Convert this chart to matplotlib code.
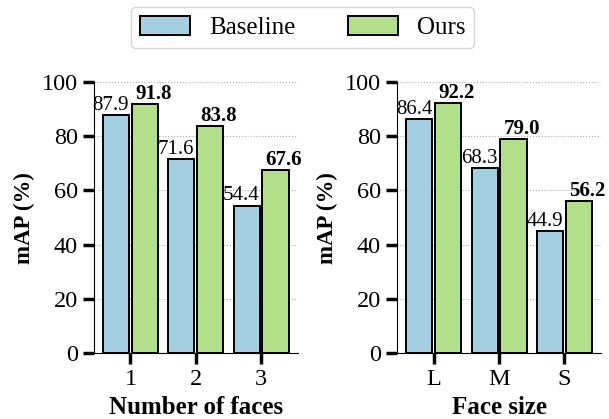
import matplotlib
matplotlib.use('Agg')
import matplotlib.pyplot as plt
import numpy as np

plt.rcParams['font.family'] = ['Liberation Serif', 'DejaVu Serif']

faces_labels = ['1', '2', '3']
faces_baseline = [87.9, 71.6, 54.4]
faces_ours = [91.8, 83.8, 67.6]

size_labels = ['L', 'M', 'S']
size_baseline = [86.4, 68.3, 44.9]
size_ours = [92.2, 79.0, 56.2]

blue = '#a6cee3'
green = '#b2df8a'

fig = plt.figure(figsize=(6.09, 4.19), dpi=100)
ax1 = fig.add_axes([0.154, 0.1575, 0.335, 0.6465])
ax2 = fig.add_axes([0.652, 0.1575, 0.335, 0.6465])


def draw(ax, labels, base, ours, xlabel):
    x = np.arange(1, len(labels) + 1)
    w = 0.4
    b1 = ax.bar(x - 0.22, base, w, color=blue, edgecolor='black', linewidth=1.4,
                label='Baseline', zorder=3)
    b2 = ax.bar(x + 0.22, ours, w, color=green, edgecolor='black', linewidth=1.4,
                label='Ours', zorder=3)
    # baseline labels hug the right edge, ours labels start just inside the left edge
    for r, v in zip(b1, base):
        ax.text(r.get_x() + r.get_width(), v + 0.1, f'{v:.1f}', ha='right',
                va='bottom', fontsize=15, clip_on=False)
    for r, v in zip(b2, ours):
        ax.text(r.get_x() + 0.05, v + 0.1, f'{v:.1f}', ha='left',
                va='bottom', fontsize=15, fontweight='bold', clip_on=False)
    ax.set_xticks(x)
    ax.set_xticklabels(labels)
    ax.set_ylim(0, 100)
    ax.set_yticks([0, 20, 40, 60, 80, 100])
    ax.set_xlabel(xlabel, fontsize=18, fontweight='bold', labelpad=4)
    ax.set_ylabel('mAP (%)', fontsize=16.5, fontweight='bold', labelpad=5)
    ax.tick_params(axis='both', labelsize=17.5, width=2.5, length=8,
                   direction='out', pad=3.5)
    ax.spines['top'].set_visible(False)
    ax.spines['right'].set_visible(False)
    ax.yaxis.grid(True, linestyle=':', color='#aaaaaa', linewidth=0.8, zorder=0)
    ax.set_axisbelow(True)
    return b1, b2


h1, h2 = draw(ax1, faces_labels, faces_baseline, faces_ours, 'Number of faces')
draw(ax2, size_labels, size_baseline, size_ours, 'Face size')

fig.legend([h1, h2], ['Baseline', 'Ours'], loc='upper center',
           bbox_to_anchor=(0.497, 1.0), ncol=2, fontsize=18,
           handlelength=2.0, handleheight=0.75, handletextpad=0.75,
           columnspacing=2.1, frameon=True, fancybox=True, edgecolor='#cccccc',
           borderaxespad=0.3, borderpad=0.35)

fig.savefig('out.png', dpi=100)
